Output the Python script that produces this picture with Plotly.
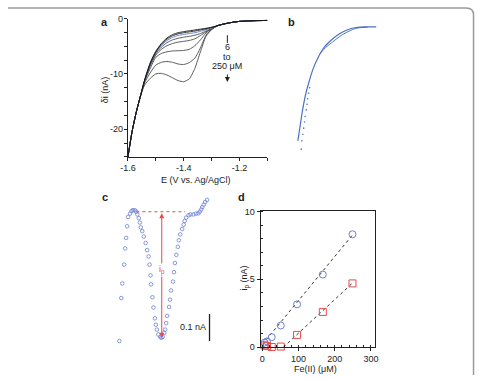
import plotly.graph_objects as go

# ---------------- Panel a: voltammograms ----------------
E_low = [-1.600, -1.585, -1.570, -1.555]
di_low = [-25.0, -20.4, -16.9, -14.0]
E_mid = [-1.54, -1.52, -1.50, -1.48, -1.46, -1.44, -1.42, -1.40, -1.38, -1.36, -1.34, -1.32, -1.30]
E_high = [-1.28, -1.26, -1.24, -1.22, -1.20, -1.17, -1.14, -1.10]
di_high = [-1.3, -1.02, -0.8, -0.63, -0.5, -0.42, -0.36, -0.33]

di_bg = [-11.1, -8.0, -5.9, -4.5, -3.5, -2.9, -2.55, -2.35, -2.2, -2.05, -1.9, -1.75, -1.55]
di_6 = [-11.1, -8.1, -6.0, -4.65, -3.7, -3.1, -2.75, -2.55, -2.4, -2.25, -2.05, -1.85, -1.6]
di_12 = [-11.15, -8.2, -6.15, -4.85, -3.95, -3.4, -3.05, -2.85, -2.7, -2.55, -2.3, -2.0, -1.7]
di_25 = [-11.2, -8.35, -6.35, -5.15, -4.35, -3.85, -3.55, -3.35, -3.2, -3.0, -2.7, -2.25, -1.8]
di_50 = [-11.25, -8.55, -6.6, -5.55, -4.9, -4.5, -4.25, -4.1, -3.95, -3.65, -3.05, -2.4, -1.85]
di_100 = [-11.35, -9.0, -7.0, -6.3, -6.0, -5.85, -5.8, -5.75, -5.55, -4.9, -3.85, -2.6, -1.9]
di_170 = [-11.6, -9.8, -8.4, -7.9, -7.75, -7.9, -8.2, -8.3, -7.95, -7.15, -5.3, -3.0, -1.95]
di_250 = [-12.0, -10.8, -10.0, -9.9, -10.2, -10.7, -11.2, -11.4, -10.9, -9.0, -6.0, -3.2, -2.0]

a_xticks = [-1.6, -1.5, -1.4, -1.3, -1.2, -1.1]
a_xtext = ["-1.6", "", "-1.4", "", "-1.2", ""]
a_yticks = [0, -2.5, -5, -7.5, -10, -12.5, -15, -17.5, -20, -22.5, -25]
a_ytext = ["0", "", "", "", "-10", "", "", "", "-20", "", ""]

# ---------------- Panel b: fitted curve ----------------
b_E = [-1.550, -1.543, -1.534, -1.523, -1.511, -1.494, -1.476, -1.459, -1.435, -1.406, -1.376, -1.341, -1.306, -1.269]
b_di = [-22.1, -19.8, -16.8, -13.9, -11.6, -8.9, -6.9, -5.4, -4.1, -2.9, -2.1, -1.6, -1.5, -1.5]
b2_E = [-1.47, -1.45, -1.43, -1.41, -1.39, -1.37, -1.35, -1.33, -1.30]
b2_di = [-6.3, -5.2, -4.4, -3.6, -2.9, -2.35, -1.9, -1.65, -1.55]
bdot_E = [-1.508, -1.511, -1.515, -1.517, -1.520, -1.524, -1.526, -1.529, -1.532, -1.536, -1.538]
bdot_di = [-12.5, -13.5, -14.5, -15.5, -16.5, -17.7, -18.7, -19.8, -20.9, -22.1, -23.6]

# ---------------- Panel c: background-subtracted peak ----------------
c_E = [-1.417, -1.413, -1.411, -1.407, -1.405, -1.403, -1.401,
       -1.399, -1.395, -1.392, -1.389, -1.385, -1.382, -1.380, -1.377,
       -1.375, -1.373, -1.370, -1.367, -1.363, -1.360, -1.357, -1.355, -1.353,
       -1.352, -1.349, -1.347, -1.344, -1.342, -1.340, -1.337, -1.333, -1.331,
       -1.328, -1.325, -1.323, -1.321, -1.319, -1.315, -1.313, -1.311, -1.307,
       -1.305, -1.303, -1.300, -1.297, -1.295, -1.292, -1.288, -1.285, -1.283,
       -1.280, -1.275, -1.271, -1.265, -1.260, -1.255, -1.252, -1.249, -1.247,
       -1.244, -1.241, -1.237]
c_i = [-0.479, -0.320, -0.266, -0.196, -0.136, -0.097, -0.054,
       -0.019, -0.007, 0.002, 0.006, 0.005, 0.000, -0.010, -0.024,
       -0.040, -0.058, -0.072, -0.092, -0.116, -0.142, -0.166, -0.196, -0.236,
       -0.269, -0.317, -0.355, -0.395, -0.419, -0.437, -0.455, -0.464, -0.467,
       -0.464, -0.449, -0.437, -0.413, -0.386, -0.353, -0.326, -0.292, -0.259,
       -0.224, -0.190, -0.160, -0.130, -0.106, -0.084, -0.064, -0.048, -0.034,
       -0.022, -0.013, -0.010, -0.010, -0.007, -0.006, 0.000, 0.008, 0.017,
       0.026, 0.036, 0.044]
c_Ep = -1.33
c_ip = -0.467
c_base_E = [-1.382, -1.282]
c_scale_E = -1.232
c_scale_i = [-0.379, -0.479]

# ---------------- Panel d: calibration ----------------
fe_conc = [6, 13, 26, 51, 96, 167, 249]
ip_blue = [0.34, 0.43, 0.74, 1.6, 3.16, 5.35, 8.32]
ip_red = [0.14, 0.10, 0.02, 0.05, 0.91, 2.6, 4.7]
fit_blue_x = [0, 250]
fit_blue_y = [0.2, 8.3]
fit_red_x = [58, 250]
fit_red_y = [0.0, 4.75]

FONT = "Arial, Liberation Sans, sans-serif"
INK = "#222222"
BLUE = "#6b7fd7"
RED = "#e84a4a"

fig = go.Figure()

curves = [(di_250, "#4a4a4a"), (di_170, "#4a4a4a"), (di_100, "#4a4a4a"), (di_50, "#4a4a4a"),
          (di_25, "#4a4a4a"), (di_12, "#5a78c8"), (di_6, "#222222"), (di_bg, "#111111")]
for mid, col in curves:
    fig.add_trace(go.Scatter(x=E_low + E_mid + E_high, y=di_low + mid + di_high, mode="lines",
                             line=dict(color=col, width=0.9, shape="spline", smoothing=0.6),
                             xaxis="x", yaxis="y", hoverinfo="skip"))

fig.add_trace(go.Scatter(x=b_E, y=b_di, mode="lines",
                         line=dict(color="#4a72c4", width=1.2, shape="spline", smoothing=0.6),
                         xaxis="x2", yaxis="y2"))
fig.add_trace(go.Scatter(x=b2_E, y=b2_di, mode="lines",
                         line=dict(color="#4a72c4", width=1.0, shape="spline", smoothing=0.6),
                         xaxis="x2", yaxis="y2"))
fig.add_trace(go.Scatter(x=bdot_E, y=bdot_di, mode="markers",
                         marker=dict(color="#4a72c4", size=1.6),
                         xaxis="x2", yaxis="y2"))

fig.add_trace(go.Scatter(x=c_E, y=c_i, mode="markers",
                         marker=dict(symbol="circle-open", color=BLUE, size=3.6, line=dict(width=0.8, color=BLUE)),
                         xaxis="x3", yaxis="y3", cliponaxis=False))

fig.add_trace(go.Scatter(x=fit_blue_x, y=fit_blue_y, mode="lines",
                         line=dict(color="#333333", width=1, dash="dot"), xaxis="x4", yaxis="y4"))
fig.add_trace(go.Scatter(x=fit_red_x, y=fit_red_y, mode="lines",
                         line=dict(color="#333333", width=1, dash="dot"), xaxis="x4", yaxis="y4"))
fig.add_trace(go.Scatter(x=fe_conc, y=ip_blue, mode="markers", cliponaxis=False,
                         marker=dict(symbol="circle-open", color=BLUE, size=7, line=dict(width=1, color=BLUE)),
                         xaxis="x4", yaxis="y4"))
fig.add_trace(go.Scatter(x=fe_conc, y=ip_red, mode="markers", cliponaxis=False,
                         marker=dict(symbol="square-open", color=RED, size=7, line=dict(width=1, color=RED)),
                         xaxis="x4", yaxis="y4"))

def px(v):
    return v / 479.0

def py(v):
    return 1 - v / 380.0

axis_common = dict(showline=True, linecolor=INK, linewidth=1, ticks="outside",
                   tickwidth=1, tickcolor=INK, showgrid=False, zeroline=False,
                   tickfont=dict(size=9, color=INK, family=FONT))

def lab(text, x, y, size=9, angle=0, color=INK):
    return dict(text=text, x=px(x), y=py(y), xref="paper", yref="paper", showarrow=False,
                xanchor="center", yanchor="middle", textangle=angle,
                font=dict(size=size, color=color))

annotations = [
    lab("<b>a</b>", 99, 17, 11),
    lab("<b>b</b>", 291, 17, 11),
    lab("<b>c</b>", 100, 197, 11),
    lab("<b>d</b>", 239, 197, 11),
    lab("δi (nA)", 99, 87, 9, -90),
    lab("E (V vs. Ag/AgCl)", 193, 180),
    lab("6", 225, 43),
    lab("to", 225, 53),
    lab("250 μM", 225, 63),
    dict(text="", x=px(225), y=py(79), ax=0, ay=-9, xref="paper", yref="paper",
         showarrow=True, arrowhead=2, arrowsize=1, arrowwidth=1, arrowcolor=INK),
    # panel c
    dict(text="", x=c_Ep, y=c_ip, ax=c_Ep, ay=0, xref="x3", yref="y3", axref="x3", ayref="y3",
         showarrow=True, arrowhead=2, startarrowhead=2, arrowside="end+start", arrowsize=1,
         arrowwidth=1, arrowcolor=RED),
    dict(text="i<sub>p</sub>", x=-1.329, y=-0.215, xref="x3", yref="y3", showarrow=False,
         xanchor="center", yanchor="middle",
         font=dict(size=9, color=RED), bgcolor="white", borderpad=0),
    dict(text="E<sub>p</sub> -1.33 V", x=c_Ep, y=-0.53, xref="x3", yref="y3", showarrow=False,
         xanchor="center", yanchor="middle", font=dict(size=9, color=RED)),
    dict(text="0.1 nA", x=-1.266, y=-0.427, xref="x3", yref="y3", showarrow=False,
         xanchor="center", yanchor="middle", font=dict(size=9)),
    # panel d
    lab("i<sub>p</sub> (nA)", 243, 280, 9, -90),
    lab("Fe(II) (μM)", 315, 374),
]

shapes = [
    dict(type="path", xref="paper", yref="paper",
         path=f"M 0,{py(3)} L {px(470)},{py(3)} Q {px(477.5)},{py(3)} {px(477.5)},{py(10)} L {px(477.5)},0",
         line=dict(color="#9a9a9a", width=1.5)),
    dict(type="line", xref="paper", yref="paper", x0=px(225), x1=px(225), y0=py(31), y1=py(39),
         line=dict(color=INK, width=1)),
    dict(type="line", xref="x3", yref="y3", x0=c_base_E[0], x1=c_base_E[1], y0=0, y1=0,
         line=dict(color=RED, width=1, dash="dot")),
    dict(type="line", xref="x3", yref="y3", x0=c_scale_E, x1=c_scale_E, y0=c_scale_i[0], y1=c_scale_i[1],
         line=dict(color=INK, width=1.3)),
]

fig.update_layout(
    width=479, height=380, margin=dict(l=0, r=0, t=0, b=0),
    paper_bgcolor="white", plot_bgcolor="rgba(0,0,0,0)", showlegend=False,
    font=dict(family=FONT, size=9, color=INK),
    xaxis=dict(domain=[px(123), px(266)], range=[-1.6, -1.1], anchor="y", ticklen=3,
               ticklabelstandoff=-1, tickvals=a_xticks, ticktext=a_xtext, **axis_common),
    yaxis=dict(domain=[py(156), py(14)], range=[-25, 0], anchor="x", ticklen=3,
               ticklabelstandoff=-1, tickvals=a_yticks, ticktext=a_ytext, **axis_common),
    xaxis2=dict(domain=[px(283), px(426)], range=[-1.6, -1.1], anchor="y2", visible=False),
    yaxis2=dict(domain=[py(156), py(14)], range=[-25, 0], anchor="x2", visible=False),
    xaxis3=dict(domain=[px(105), px(215)], range=[-1.4354, -1.2154], anchor="y3", visible=False),
    yaxis3=dict(domain=[py(355), py(195)], range=[-0.515, 0.0625], anchor="x3", visible=False),
    xaxis4=dict(domain=[px(259), px(376)], range=[-5, 310], anchor="y4", mirror=True,
                tickvals=[0, 100, 200, 300], ticklen=3,
                minor=dict(dtick=20, tick0=0, ticks="inside", ticklen=2, tickcolor=INK),
                **axis_common),
    yaxis4=dict(domain=[py(351.5), py(212)], range=[0, 10], anchor="x4", mirror=True,
                tickvals=[0, 5, 10], ticklen=3,
                minor=dict(dtick=1, tick0=0, ticks="inside", ticklen=2, tickcolor=INK),
                **axis_common),
    annotations=annotations,
    shapes=shapes,
)

fig.write_html("out.html")
